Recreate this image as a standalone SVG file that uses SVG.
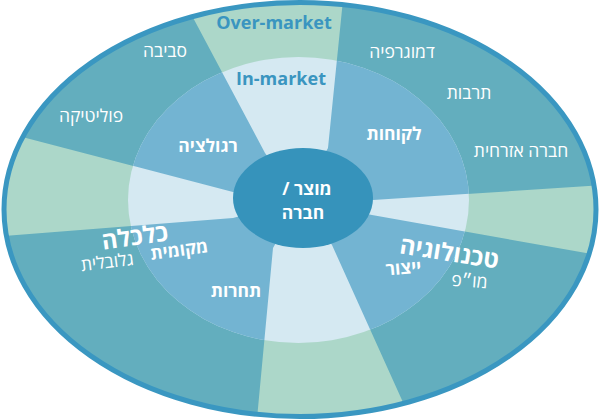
<svg xmlns="http://www.w3.org/2000/svg" xmlns:xlink="http://www.w3.org/1999/xlink" width="600" height="420" viewBox="0 0 600 420">
<style>
text{font-family:"Open Sans","Liberation Sans","DejaVu Sans",sans-serif;text-anchor:middle}
.he{fill:#ffffff;direction:rtl}
.reg{font-size:17.5px;font-weight:400}
.bld{font-size:17.5px;font-weight:700}
.big{font-size:24px;font-weight:700}
.en{fill:#3a95c0;font-weight:700;font-size:18px}
.teal{fill:#63aebe}
.blue{fill:#73b4d2}
</style>
<defs>
<clipPath id="clipOuter"><ellipse cx="300" cy="209.5" rx="296" ry="207"/></clipPath>
<clipPath id="clipMid"><ellipse cx="298.5" cy="200" rx="170.5" ry="143"/></clipPath>
<polygon id="secTL" points="233,192 -20,126 -20,-20 173,-20 265,153 300,200"/>
<polygon id="secTR" points="328,148 345,-20 620,-20 620,184 373,200 300,200"/>
<polygon id="secBR" points="372,215 620,259 620,440 420,440 332,245 300,200"/>
<polygon id="secBL" points="273,248 255,440 -20,440 -20,238 233,218 300,200"/>
</defs>
<g id="outer-ring" clip-path="url(#clipOuter)">
<rect x="0" y="0" width="600" height="420" fill="#acd7c9"/>
<use xlink:href="#secTL" class="teal"/>
<use xlink:href="#secTR" class="teal"/>
<use xlink:href="#secBR" class="teal"/>
<use xlink:href="#secBL" class="teal"/>
</g>
<g id="middle-ring" clip-path="url(#clipMid)">
<rect x="0" y="0" width="600" height="420" fill="#d5e9f2"/>
<use xlink:href="#secTL" class="blue"/>
<use xlink:href="#secTR" class="blue"/>
<use xlink:href="#secBR" class="blue"/>
<use xlink:href="#secBL" class="blue"/>
</g>
<g id="outline"><ellipse cx="300" cy="209.5" rx="296" ry="207" fill="none" stroke="#3a97c1" stroke-width="5"/></g>
<g id="center-node">
<ellipse cx="303" cy="198" rx="70" ry="50" fill="#3693bb"/>
<text class="he bld" x="307" y="195">מוצר /</text>
<text class="he bld" x="303" y="219">חברה</text>
</g>
<g id="labels-top">
<text class="en" x="274" y="29">Over-market</text>
<text class="en" x="281" y="85">In-market</text>
</g>
<g id="sector-environment">
<text class="he reg" x="165" y="57">סביבה</text>
<text class="he reg" x="91" y="122">פוליטיקה</text>
<text class="he bld" x="208" y="152">רגולציה</text>
</g>
<g id="sector-society">
<text class="he reg" x="402" y="58">דמוגרפיה</text>
<text class="he reg" x="469" y="99">תרבות</text>
<text class="he reg" x="521" y="157">חברה אזרחית</text>
<text class="he bld" x="394" y="140">לקוחות</text>
</g>
<g id="sector-economy">
<text class="he big" transform="translate(136,245) rotate(-8)">כלכלה</text>
<text class="he bld" transform="translate(180,256) rotate(-8)">מקומית</text>
<text class="he reg" transform="translate(108,268) rotate(-7)">גלובלית</text>
<text class="he bld" x="236" y="297">תחרות</text>
</g>
<g id="sector-technology">
<text class="he big" transform="translate(448,261) rotate(9)">טכנולוגיה</text>
<text class="he bld" transform="translate(404,274) rotate(-5)">ייצור</text>
<text class="he reg" transform="translate(469,287) rotate(4)">מו״פ</text>
</g>
</svg>
